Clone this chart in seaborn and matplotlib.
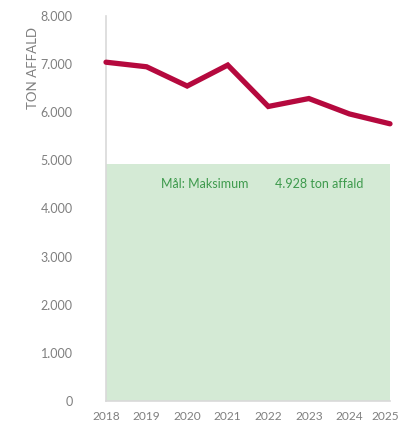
import matplotlib
matplotlib.use("Agg")
import matplotlib.pyplot as plt
import matplotlib.transforms as mtransforms
import seaborn as sns
import pandas as pd
from matplotlib.ticker import FuncFormatter

years = [2018, 2019, 2020, 2021, 2022, 2023, 2024, 2025]
waste_tons = [7040, 6945, 6545, 6980, 6120, 6285, 5965, 5760]
target_max = 4928
target_label = "Mål: Maksimum"
target_value_label = "4.928 ton affald"
y_ticks = [0, 1000, 2000, 3000, 4000, 5000, 6000, 7000, 8000]

sns.set_theme(style="white")
plt.rcParams["font.family"] = ["Lato", "DejaVu Sans"]

df = pd.DataFrame({"year": years, "tons": waste_tons})

fig = plt.figure(figsize=(4.01, 4.25), dpi=100)
ax = fig.add_axes([106 / 401, 1 - 401 / 425, 284 / 401, 385 / 425])

ax.fill_between([years[0], years[-1]], 0, target_max, color="#d4ead5", linewidth=0, zorder=1)
sns.lineplot(data=df, x="year", y="tons", ax=ax, color="#b5093e", linewidth=3.8,
             solid_capstyle="round", solid_joinstyle="miter", zorder=3, clip_on=False)

ax.text(2019.36, 4510, target_label, color="#3d9a4c", fontsize=9, va="center", ha="left")
ax.text(2022.17, 4510, target_value_label, color="#3d9a4c", fontsize=9, va="center", ha="left")

ax.set_xlim(years[0], years[-1])
ax.set_ylim(0, 8000)
ax.set_xticks(years)
ax.set_yticks(y_ticks)
ax.yaxis.set_major_formatter(FuncFormatter(lambda v, p: f"{int(v):,}".replace(",", ".")))

for side in ["top", "right"]:
    ax.spines[side].set_visible(False)
for side in ["left", "bottom"]:
    ax.spines[side].set_color("#d9d9d9")
    ax.spines[side].set_linewidth(1.2)

ax.tick_params(axis="both", which="major", colors="#d9d9d9", labelcolor="#7f7f7f",
               labelsize=9, length=4, width=1, direction="out", pad=3)
ax.tick_params(axis="x", labelsize=8.6)
ax.tick_params(axis="y", pad=20)
for lbl in ax.get_yticklabels():
    lbl.set_horizontalalignment("right")

# keep the last year label inside the figure edge
fig.canvas.draw()
last = ax.get_xticklabels()[-1]
last.set_transform(last.get_transform() +
                   mtransforms.ScaledTranslation(-5 / 100, 0, fig.dpi_scale_trans))

ax.set_xlabel("")
ax.set_ylabel("")
fig.text(33 / 401, 1 - 68 / 425, "TON AFFALD", rotation=90, color="#7f7f7f",
         fontsize=9.5, ha="center", va="center")

fig.savefig("out.png", dpi=100)
